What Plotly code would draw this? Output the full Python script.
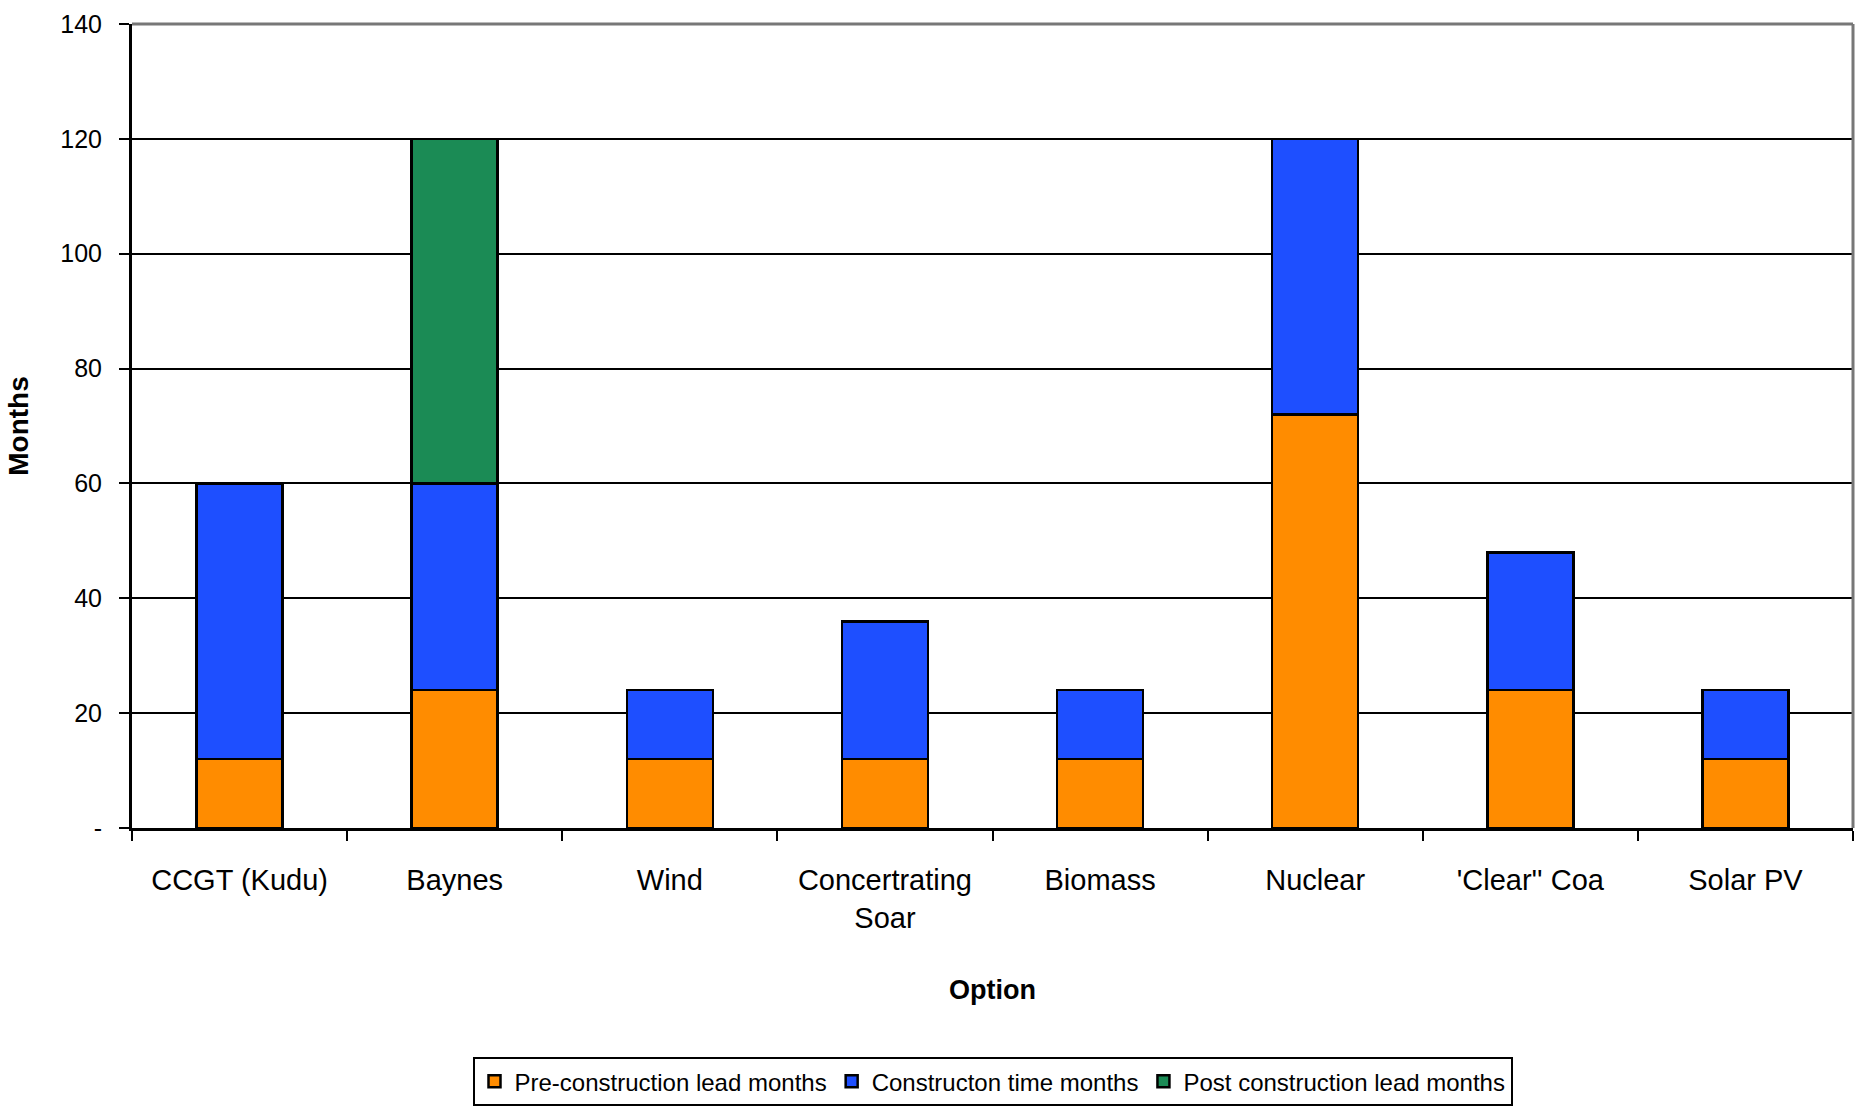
import plotly.graph_objects as go

categories = ["CCGT (Kudu)", "Baynes", "Wind", "Concertrating<br>Soar", "Biomass",
              "Nuclear", "'Clear'' Coa", "Solar PV"]
pre_construction = [12, 24, 12, 12, 12, 72, 24, 12]
construction = [48, 36, 12, 24, 12, 48, 24, 12]
post_construction = [0, 60, 0, 0, 0, 0, 0, 0]
series_names = ["Pre-construction lead months", "Constructon time months",
                "Post construction lead months"]
y_tickvals = [0, 20, 40, 60, 80, 100, 120, 140]
y_ticktext = ["-", "20", "40", "60", "80", "100", "120", "140"]

FONT = "Liberation Sans, Arial, sans-serif"
colors = ["#FF8C00", "#1E4FFF", "#1B8B55"]

fig = go.Figure()
for name, vals, col in zip(series_names, [pre_construction, construction, post_construction], colors):
    fig.add_trace(go.Bar(
        x=categories, y=vals, name=name,
        marker=dict(color=col, line=dict(color="black", width=2.5)),
        width=0.4,
    ))

fig.update_layout(
    template="none",
    barmode="stack",
    width=1858, height=1115,
    margin=dict(l=132, r=5, t=24, b=287, autoexpand=False),
    plot_bgcolor="white", paper_bgcolor="white",
    font=dict(family=FONT, color="black"),
    showlegend=True,
    legend=dict(
        orientation="h", x=0.5, xanchor="center", y=-0.285, yanchor="top",
        bordercolor="black", borderwidth=2,
        font=dict(family=FONT, size=24, color="black"),
        traceorder="normal",
    ),
    shapes=[
        dict(type="line", xref="paper", yref="paper", x0=0, x1=1, y0=1, y1=1,
             line=dict(color="#777777", width=3)),
        dict(type="line", xref="paper", yref="paper", x0=1, x1=1, y0=0, y1=1,
             line=dict(color="#777777", width=3)),
    ],
)

fig.update_xaxes(
    automargin=False,
    showline=True, linecolor="black", linewidth=3,
    ticks="outside", tickson="boundaries", ticklen=10, tickwidth=2, tickcolor="black",
    tickangle=0,
    tickfont=dict(family=FONT, size=29, color="black"),
    ticklabelstandoff=24,
    title=dict(text="<b>Option</b>", font=dict(family=FONT, size=27, color="black"), standoff=48),
    showgrid=False,
)
fig.update_yaxes(
    automargin=False,
    range=[0, 140],
    tickvals=y_tickvals, ticktext=y_ticktext,
    showline=True, linecolor="black", linewidth=3,
    ticks="outside", ticklen=10, tickwidth=2, tickcolor="black",
    tickfont=dict(family=FONT, size=25, color="black"),
    ticklabelstandoff=12,
    showgrid=True, gridcolor="black", gridwidth=1.5,
    zeroline=False,
    title=dict(text="<b>Months</b>", font=dict(family=FONT, size=28, color="black"), standoff=24),
)

fig.write_html("out.html")
